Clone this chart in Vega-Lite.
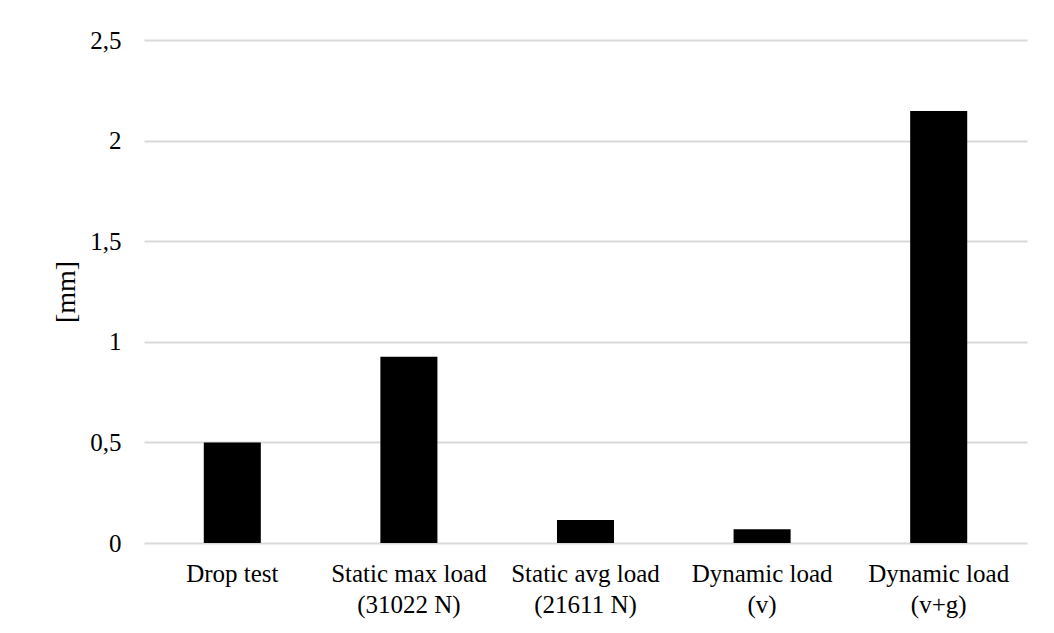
{
  "$schema": "https://vega.github.io/schema/vega-lite/v6.json",
  "width": 883,
  "height": 503,
  "autosize": {"type": "none"},
  "padding": {"left": 144, "top": 40, "right": 27, "bottom": 90},
  "background": "white",
  "config": {
    "view": {"stroke": null},
    "font": "Liberation Serif",
    "axis": {
      "labelFont": "Liberation Serif",
      "titleFont": "Liberation Serif",
      "labelColor": "#000000",
      "titleColor": "#000000",
      "labelFontSize": 25,
      "titleFontSize": 28,
      "titleFontWeight": "normal",
      "ticks": false,
      "domain": false
    }
  },
  "data": {
    "values": [
      {"test": "Drop test", "displacement": 0.5},
      {"test": "Static max load\n(31022 N)", "displacement": 0.926},
      {"test": "Static avg load\n(21611 N)", "displacement": 0.114},
      {"test": "Dynamic load\n(v)", "displacement": 0.068},
      {"test": "Dynamic load\n(v+g)", "displacement": 2.147}
    ]
  },
  "mark": {"type": "bar", "color": "#000000"},
  "encoding": {
    "x": {
      "field": "test",
      "type": "nominal",
      "sort": null,
      "scale": {"paddingInner": 0.677, "paddingOuter": 0.3385},
      "axis": {
        "title": null,
        "labelAngle": 0,
        "labelPadding": 18,
        "labelLineHeight": 31,
        "labelBaseline": "top",
        "labelExpr": "split(datum.label, '\\n')",
        "grid": false
      }
    },
    "y": {
      "field": "displacement",
      "type": "quantitative",
      "scale": {"domain": [0, 2.5], "nice": false},
      "axis": {
        "title": "[mm]",
        "values": [0, 0.5, 1, 1.5, 2, 2.5],
        "format": ".1~f",
        "labelExpr": "replace(datum.label, '.', ',')",
        "labelPadding": 23,
        "titlePadding": 9,
        "grid": true,
        "gridColor": "#d9d9d9",
        "gridWidth": 2
      }
    }
  }
}
